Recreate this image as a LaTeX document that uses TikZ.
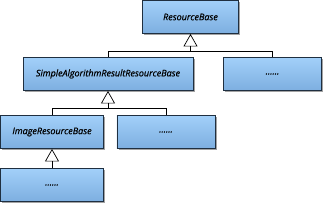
\documentclass[tikz,border=0pt]{standalone}
\usepackage{fontspec}
\setmainfont{Open Sans}
\newfontfamily\lblfont[FakeBold=0.7]{Open Sans}
\usetikzlibrary{arrows.meta,shadows}
\definecolor{boxtop}{HTML}{A2CFF9}
\definecolor{boxbot}{HTML}{7DAFE0}
\definecolor{boxline}{HTML}{1F2F40}
\begin{document}
\begin{tikzpicture}[x=1pt,y=-1pt,
  cls/.style={draw=boxline, line width=0.9pt, top color=boxtop, bottom color=boxbot,
    minimum height=33pt, inner sep=0pt, font=\lblfont\fontsize{9}{11}\selectfont\itshape, text=black,
    drop shadow={shadow xshift=1.6pt, shadow yshift=-1.6pt, fill=black!45, opacity=0.8}},
  inh/.style={draw=black, line width=0.7pt, -{Triangle[open, length=12.5pt, width=14pt, line width=0.7pt]}},
  lnk/.style={draw=black, line width=0.7pt}]
\useasboundingbox (0,0) rectangle (325,204);
\node[cls, minimum width=96pt] (rb) at (190.5,17) {ResourceBase};
\node[cls, minimum width=170pt] (sa) at (108,74) {SimpleAlgorithmResultResourceBase};
\node[cls, minimum width=98pt] (d1) at (272.5,74) {......};
\node[cls, minimum width=103pt] (irb) at (52,132) {ImageResourceBase};
\node[cls, minimum width=98pt] (d2) at (166,132) {......};
\node[cls, minimum width=103pt] (d3) at (52,185) {......};
\coordinate (j1) at (rb.south |- 0,51.7);
\coordinate (j2) at (sa.south |- 0,108.5);
\draw[lnk] (sa.north) |- (j1);
\draw[lnk] (d1.north) |- (j1);
\draw[inh] (j1) -- (rb.south);
\draw[lnk] (irb.north) |- (j2);
\draw[lnk] (d2.north) |- (j2);
\draw[inh] (j2) -- (sa.south);
\draw[inh] (d3.north) -- (irb.south);
\end{tikzpicture}
\end{document}
